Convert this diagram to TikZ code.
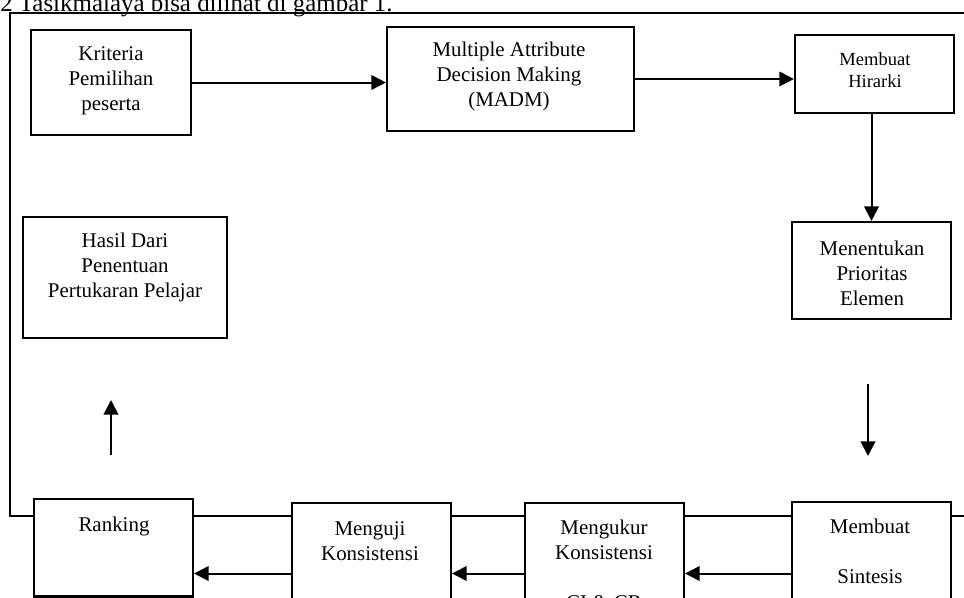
\documentclass[tikz,border=0pt]{standalone}
\usepackage{fontspec}
\setmainfont{Liberation Serif}
\usetikzlibrary{arrows.meta}
\begin{document}
\begin{tikzpicture}[x=0.75pt, y=-0.75pt,
  box/.style 2 args={draw, fill=white, line width=1.6pt, inner sep=0pt,
    minimum width=#1*0.75pt, minimum height=#2*0.75pt},
  txt/.style={align=center, inner sep=0pt, font=\fontsize{15.7}{18.75}\selectfont},
  smalltxt/.style={align=center, inner sep=0pt, font=\fontsize{13.9}{16.5}\selectfont},
  arr/.style={line width=1.5pt, -{Triangle[length=11pt,width=11pt]}},
  framing/.style={line width=1.6pt}]
\useasboundingbox (0,0) rectangle (964,597);

% caption line (cut at top of the page)
\node[anchor=base west, inner sep=0pt, font=\fontsize{18.7}{22}\selectfont] (cap) at (0,11)
  {2 Tasikmalaya bisa dilihat di gambar 1.};

% outer frame
\draw[framing] (980,13) -- (10,13) -- (10,516) -- (980,516);

% boxes
\node[box={160}{105}] (krit) at (111,82.5) {};
\node[box={247}{104}] (madm) at (510.5,79) {};
\node[box={159}{78}]  (hir)  at (874.5,74) {};
\node[box={159}{97}]  (men)  at (871.5,270.5) {};
\node[box={204}{121}] (hasil) at (125,277.5) {};
\node[box={159}{97.5}] (rank) at (113.5,547.75) {};
\node[box={159}{107}] (uji)  at (371.5,556.5) {};
\node[box={159}{107}] (ukur) at (604.5,556.5) {};
\node[box={159}{108}] (sint) at (871.5,556) {};

% texts
\node[txt] (kritT) at (111,80.5) {Kriteria\\Pemilihan\\peserta};
\node[txt] (madmT) at (509,76.5) {Multiple Attribute\\Decision Making\\(MADM)};
\node[smalltxt] (hirT) at (875,70) {Membuat\\Hirarki};
\node[txt] (menT) at (872,273) {Menentukan\\Prioritas\\Elemen};
\node[txt] (hasilT) at (125,267) {Hasil Dari\\Penentuan\\Pertukaran Pelajar};
\node[txt] (rankT) at (114,526) {Ranking};
\node[txt] (ujiT) at (370,541) {Menguji\\Konsistensi};
\node[txt] (ukurT) at (604,565) {Mengukur\\Konsistensi\\[18.75pt]CI \& CR};
\node[txt] (sintT) at (870,551) {Membuat\\[18.75pt]Sintesis};

% connectors
\draw[arr] (krit.east) -- (krit.east -| madm.west);
\draw[arr] (madm.east) -- (madm.east -| hir.west);
\draw[arr] (men.north |- hir.south) -- (men.north);

\coordinate (d1) at (868,384);
\coordinate (d2) at (868,456);
\draw[arr] (d1) -- (d2);

\coordinate (u1) at (111,455);
\coordinate (u2) at (111,400);
\draw[arr] (u1) -- (u2);

\coordinate (lvl) at (0,573.5);
\draw[arr] (sint.west |- lvl) -- (ukur.east |- lvl);
\draw[arr] (ukur.west |- lvl) -- (uji.east |- lvl);
\draw[arr] (uji.west |- lvl) -- (rank.east |- lvl);
\end{tikzpicture}
\end{document}
